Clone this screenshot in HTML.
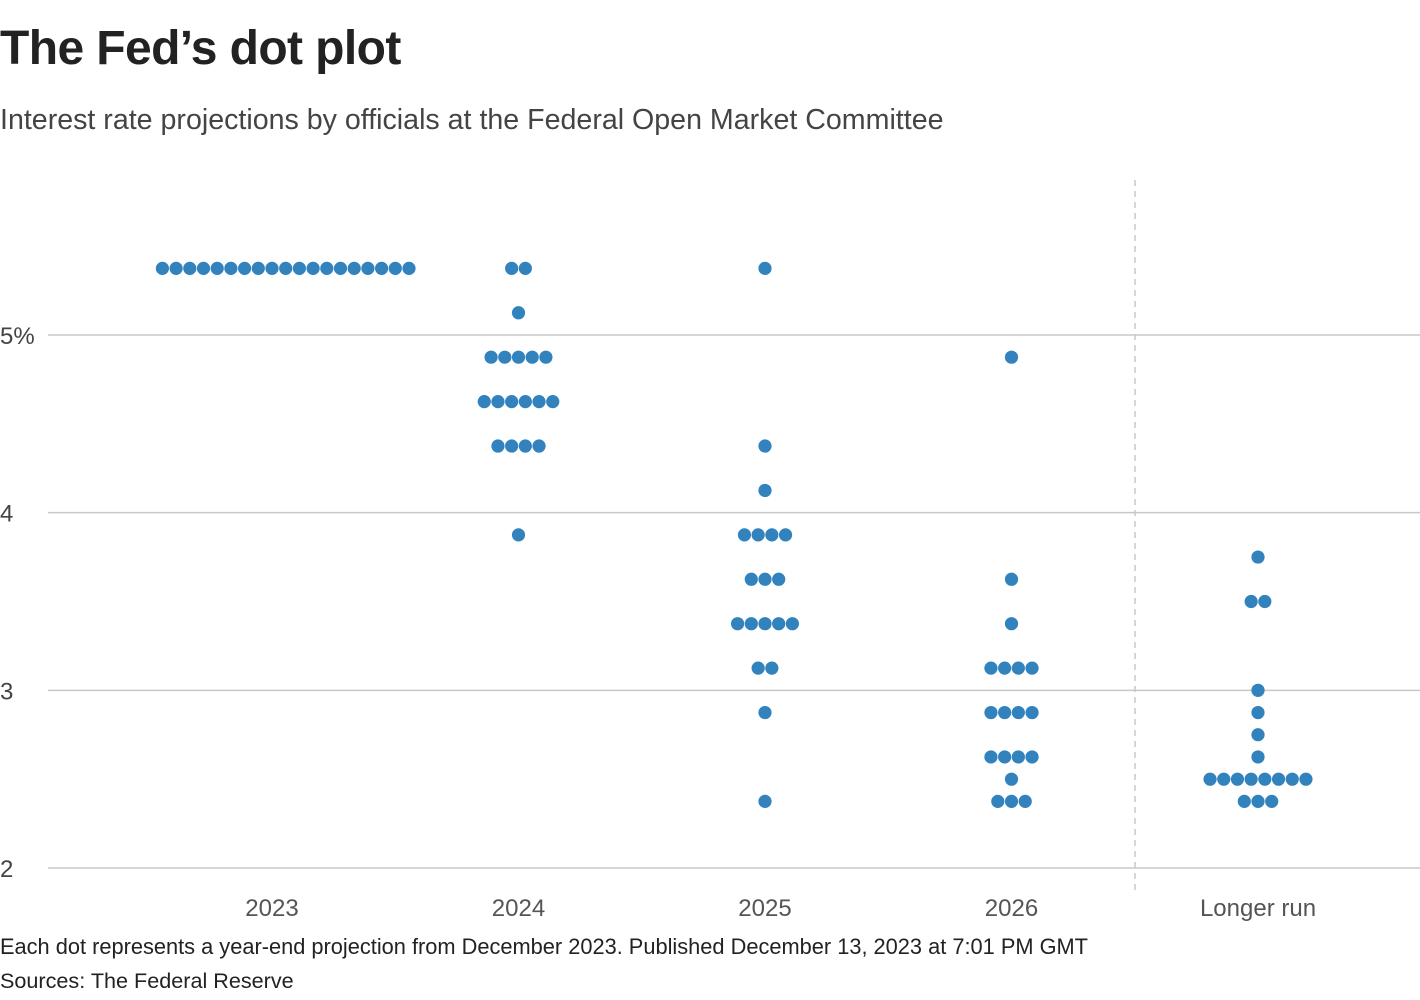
<!DOCTYPE html>
<html><head><meta charset="utf-8"><style>
body{margin:0;width:1420px;height:1000px;background:#fff;font-family:"Liberation Sans",sans-serif;overflow:hidden;position:relative}
.t{position:absolute;left:0;white-space:nowrap}
</style></head><body>
<div class="t" style="top:21px;font-size:48px;font-weight:bold;color:#222;letter-spacing:-0.6px">The Fed’s dot plot</div>
<div class="t" style="top:104px;font-size:28.6px;color:#444">Interest rate projections by officials at the Federal Open Market Committee</div>
<svg id="c" width="1420" height="1000" style="position:absolute;left:0;top:0"></svg>
<div class="t" style="top:934px;font-size:21.8px;color:#222">Each dot represents a year-end projection from December 2023. Published December 13, 2023 at 7:01 PM GMT</div>
<div class="t" style="top:968px;font-size:21.6px;color:#222">Sources: The Federal Reserve</div>
<script>
const categories=["2023","2024","2025","2026","Longer run"];
const yTicks=[2,3,4,5];
const rates2023=[[5.375,19]];
const rates2024=[[5.375,2],[5.125,1],[4.875,5],[4.625,6],[4.375,4],[3.875,1]];
const rates2025=[[5.375,1],[4.375,1],[4.125,1],[3.875,4],[3.625,3],[3.375,5],[3.125,2],[2.875,1],[2.375,1]];
const rates2026=[[4.875,1],[3.625,1],[3.375,1],[3.125,4],[2.875,4],[2.625,4],[2.5,1],[2.375,3]];
const ratesLonger=[[3.75,1],[3.5,2],[3.0,1],[2.875,1],[2.75,1],[2.625,1],[2.5,8],[2.375,3]];
const series=[rates2023,rates2024,rates2025,rates2026,ratesLonger];
const NS="http://www.w3.org/2000/svg",svg=document.getElementById('c');
const y=v=>868-(v-2)*177.67;
const x=i=>272+i*246.5;
function mk(t,a){const e=document.createElementNS(NS,t);for(const k in a)e.setAttribute(k,a[k]);svg.appendChild(e);return e;}
yTicks.forEach(v=>{
 const l=mk('line',{x1:48,x2:1420,y1:y(v),y2:y(v),stroke:'#c8c8c8','stroke-width':1.5});
 
 
 const t=mk('text',{x:0,y:y(v)+9,'font-size':24,fill:'#444','font-family':'Liberation Sans, sans-serif'});
 t.textContent=v===5?'5%':String(v);
 
 
});
const d=mk('line',{x1:1135,x2:1135,y1:180,y2:890,stroke:'#c8c8c8','stroke-width':1.5,'stroke-dasharray':'6,5'});


categories.forEach((c,i)=>{
 const t=mk('text',{x:x(i),y:916,'font-size':24,fill:'#555','text-anchor':'middle','font-family':'Liberation Sans, sans-serif'});
 t.textContent=c;
 
 
 series[i].forEach(([r,n])=>{
  const shift=(n>12)?13.7:0;
  for(let k=0;k<n;k++){
   const cx=x(i)+shift+(k-(n-1)/2)*13.7;
   const dot=mk('circle',{cx:cx,cy:y(r),r:6.6,fill:'#3182bd'});
   
   
  }
 });
});
</script>
</body></html>
